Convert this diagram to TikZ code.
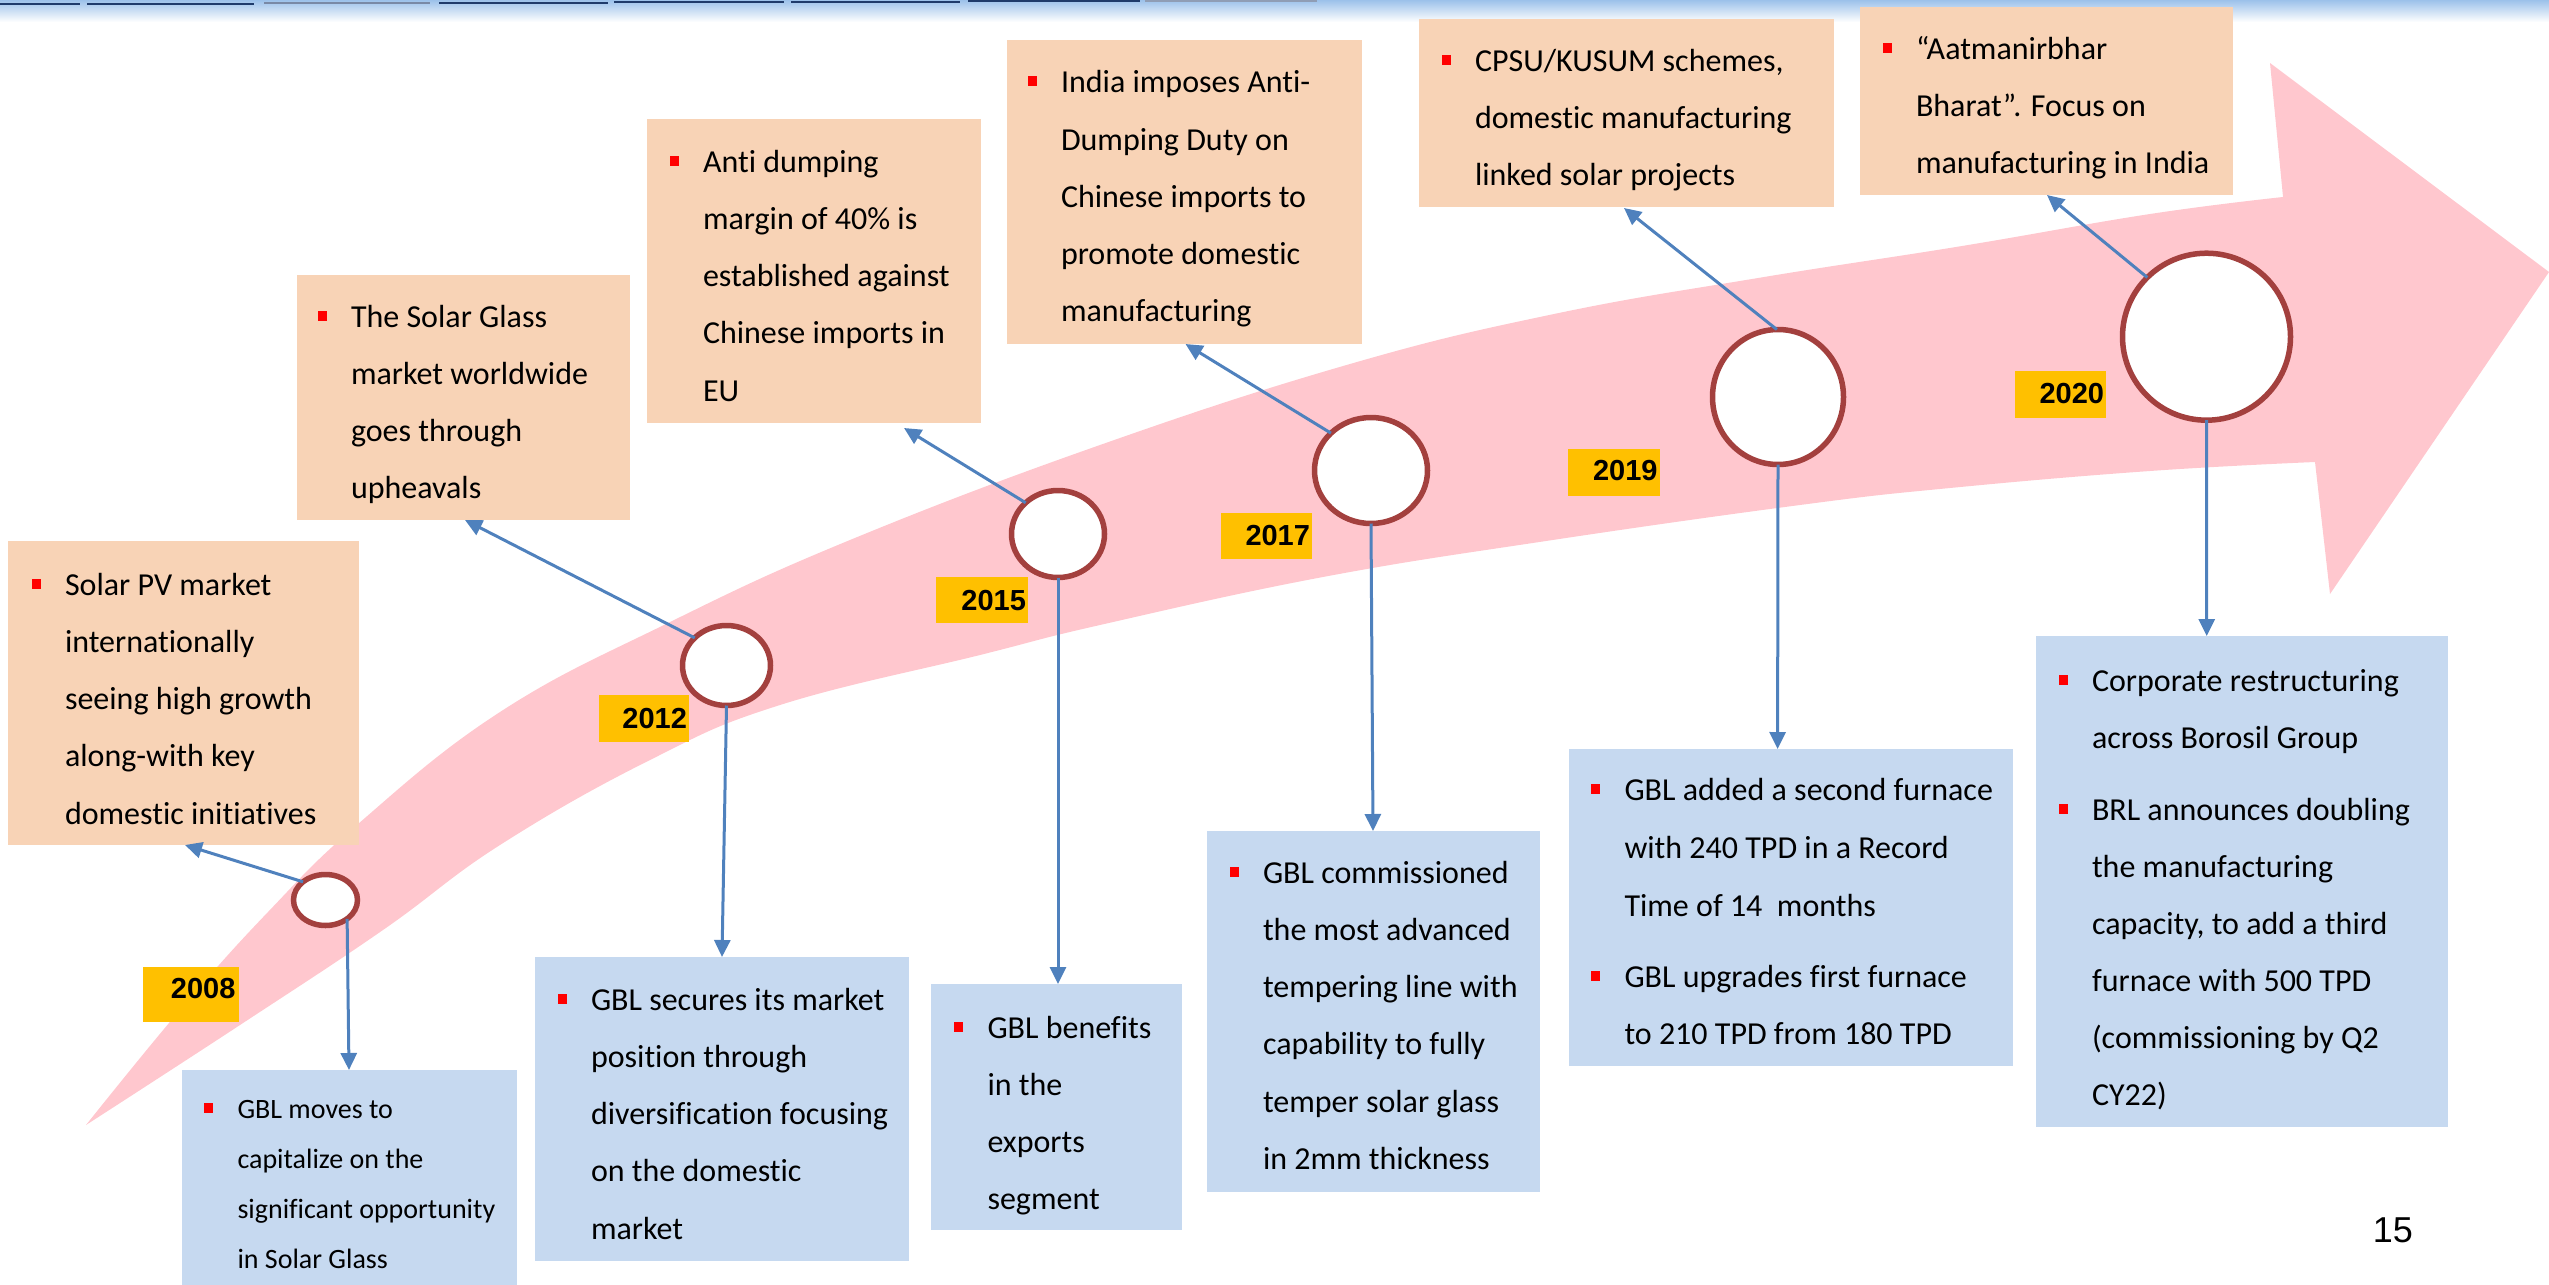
\documentclass[tikz,border=0pt]{standalone}
\usepackage{fontspec}
\setmainfont[Ligatures={NoCommon}]{Carlito}
\newfontfamily\arialf{Liberation Sans}
\usetikzlibrary{arrows.meta,shapes.geometric}
\definecolor{cOr}{HTML}{F8D3B6}
\definecolor{cBx}{HTML}{C6D9F0}
\definecolor{cPink}{HTML}{FFC7CE}
\definecolor{cYr}{HTML}{FFC000}
\definecolor{cRing}{HTML}{A3403E}
\definecolor{cBl}{HTML}{4F81BD}
\definecolor{cNavy}{HTML}{1F3B6B}
\definecolor{cStrip}{HTML}{9CC1EA}
\begin{document}
\begin{tikzpicture}[x=1pt,y=-1pt,
  obx/.style={fill=cOr, anchor=north west, inner sep=0pt, outer sep=0pt},
  bbx/.style={fill=cBx, anchor=north west, inner sep=0pt, outer sep=0pt},
  txt/.style={anchor=north west, inner sep=0pt, outer sep=0pt, align=left, font=\fontsize{32}{57.3}\selectfont},
  bul/.style={fill=red, minimum width=9pt, minimum height=10pt, inner sep=0pt, outer sep=0pt},
  ring/.style={ellipse, draw=cRing, line width=5.5pt, fill=white, inner sep=0pt, outer sep=0pt},
  ybox/.style={fill=cYr, anchor=north west, inner sep=0pt, outer sep=0pt},
  ytxt/.style={anchor=base east, inner sep=0pt, outer sep=0pt, font=\arialf\bfseries\fontsize{29}{30}\selectfont},
  conn/.style={draw=cBl, line width=3pt, -{Triangle[length=17pt,width=16pt]}}
]
\useasboundingbox (0,0) rectangle (2549,1285);
% top strip
\shade[top color=cStrip, bottom color=white] (0,0) rectangle (2549,22);
\fill[cNavy] (0,3) rectangle (80,5);
\fill[cNavy] (87,2.5) rectangle (254,4.5);
\fill[cNavy!60!white] (264,2) rectangle (430,4);
\fill[cNavy] (439,1.5) rectangle (608,3.5);
\fill[cNavy] (614,1) rectangle (784,3);
\fill[cNavy] (791,0.5) rectangle (960,2.5);
\fill[cNavy] (968,0) rectangle (1140,2);
\fill[cNavy!50!white] (1145,0) rectangle (1317,1.5);

% big pink arrow
\fill[cPink] plot[smooth, tension=0.7] coordinates {(86,1125) (180,1010) (268,912) (358,824) (500,712) (668,623) (850,540) (1100,445) (1350,364) (1554,314) (1758,278) (1962,246) (2150,214) (2283,197)}
  -- (2270,63) -- (2549,272) -- (2330,594) -- (2315,462)
  -- plot[smooth, tension=0.7] coordinates {(2315,462) (2150,471) (1950,488) (1800,505) (1546,541) (1323,577) (1100,625) (980,655) (780,705) (650,760) (500,845) (383,930) (240,1025) (86,1125)} -- cycle;

% orange boxes
\node[obx, minimum width=351pt, minimum height=304pt] (o1) at (8,541) {};
\node[obx, minimum width=333pt, minimum height=245pt] (o2) at (297,275) {};
\node[obx, minimum width=334pt, minimum height=304pt] (o3) at (647,119) {};
\node[obx, minimum width=355pt, minimum height=304pt] (o4) at (1007,40) {};
\node[obx, minimum width=415pt, minimum height=188pt] (o5) at (1419,19) {};
\node[obx, minimum width=373pt, minimum height=188pt] (o6) at (1860,7) {};

% blue boxes
\node[bbx, minimum width=335pt, minimum height=230pt] (b1) at (182,1070) {};
\node[bbx, minimum width=374pt, minimum height=304pt] (b2) at (535,957) {};
\node[bbx, minimum width=251pt, minimum height=246pt] (b3) at (931,984) {};
\node[bbx, minimum width=333pt, minimum height=361pt] (b4) at (1207,831) {};
\node[bbx, minimum width=444pt, minimum height=317pt] (b5) at (1569,749) {};
\node[bbx, minimum width=412pt, minimum height=491pt] (b6) at (2036,636) {};

% texts of orange boxes
\node[txt] (o1t) at (65,568) {\rule{0pt}{27pt}Solar PV market\\internationally\\seeing high growth\\along-with key\\domestic initiatives};
\node[txt] (o2t) at (351,300) {\rule{0pt}{27pt}The Solar Glass\\market worldwide\\goes through\\upheavals};
\node[txt] (o3t) at (703,145) {\rule{0pt}{27pt}Anti dumping\\margin of 40\% is\\established against\\Chinese imports in\\EU};
\node[txt] (o4t) at (1061,65.7) {\rule{0pt}{27pt}India imposes Anti-\\Dumping Duty on\\Chinese imports to\\promote domestic\\manufacturing};
\node[txt] (o5t) at (1475,44) {\rule{0pt}{27pt}CPSU/KUSUM schemes,\\domestic manufacturing\\linked solar projects};
\node[txt] (o6t) at (1916,32) {\rule{0pt}{27pt}“Aatmanirbhar\\Bharat”. Focus on\\manufacturing in India};

% texts of blue boxes
\node[txt, font=\fontsize{28}{50}\selectfont] (b1t) at (237.5,1094) {\rule{0pt}{24pt}GBL moves to\\capitalize on the\\significant opportunity\\in Solar Glass};
\node[txt] (b2t) at (591,983) {\rule{0pt}{27pt}GBL secures its market\\position through\\diversification focusing\\on the domestic\\market};
\node[txt] (b3t) at (987.5,1011) {\rule{0pt}{27pt}GBL benefits\\in the\\exports\\segment};
\node[txt] (b4t) at (1263,856) {\rule{0pt}{27pt}GBL commissioned\\the most advanced\\tempering line with\\capability to fully\\temper solar glass\\in 2mm thickness};
\node[txt, font=\fontsize{32}{57.7}\selectfont] (b5t) at (1624.5,773.7) {\rule{0pt}{27pt}GBL added a second furnace\\with 240 TPD in a Record\\Time of 14\ \ months\\[13.3pt]GBL upgrades first furnace\\to 210 TPD from 180 TPD};
\node[txt, font=\fontsize{32}{57}\selectfont] (b6t) at (2092,664.6) {\rule{0pt}{27pt}Corporate restructuring\\across Borosil Group\\[15pt]BRL announces doubling\\the manufacturing\\capacity, to add a third\\furnace with 500 TPD\\(commissioning by Q2\\CY22)};

% bullets
\node[bul] (o1b) at (36,583.5) {};
\node[bul] (o2b) at (322,315.5) {};
\node[bul] (o3b) at (674,160.5) {};
\node[bul] (o4b) at (1032,81.2) {};
\node[bul] (o5b) at (1446,59.5) {};
\node[bul] (o6b) at (1887,47.5) {};
\node[bul] (b1b) at (208.5,1107.5) {};
\node[bul] (b2b) at (562,998.5) {};
\node[bul] (b3b) at (958.5,1026.5) {};
\node[bul] (b4b) at (1234,871.5) {};
\node[bul] (b5b) at (1595,789.2) {};
\node[bul] (b5c) at (1595,975.5) {};
\node[bul] (b6b) at (2063,680.1) {};
\node[bul] (b6c) at (2063,809.1) {};

% connector ends
\coordinate (t1) at (185,845);
\coordinate (t2) at (465,520);
\coordinate (t3) at (904,428);
\coordinate (t4) at (1185.5,344);
\coordinate (t5) at (1624,208);
\coordinate (t6) at (2047,195);
\coordinate (d1) at (349,1070);
\coordinate (d2) at (722,957);
\coordinate (d3) at (1058,984);
\coordinate (d4) at (1373,831);
\coordinate (d5) at (1777.6,749);
\coordinate (d6) at (2206.7,636);

% rings
\path (325.5,900) node[ring, minimum width=64pt, minimum height=51pt] (c1) {};
\path (726.5,665.5) node[ring, minimum width=88pt, minimum height=80pt] (c2) {};
\path (1058,534) node[ring, minimum width=93pt, minimum height=87pt] (c3) {};
\path (1371,470.5) node[ring, minimum width=113pt, minimum height=106pt] (c4) {};
\path (1778,397) node[ring, minimum width=131pt, minimum height=135pt] (c5) {};
\path (2206.5,336.7) node[ring, minimum width=168pt, minimum height=167pt] (c6) {};

% connectors
\draw[conn] (c1.141) -- (t1);
\draw[conn] (c2.139) -- (t2);
\draw[conn] (c3.136) -- (t3);
\draw[conn] (c4.137) -- (t4);
\draw[conn] (c5.91) -- (t5);
\draw[conn] (c6.135) -- (t6);
\draw[conn] (c1.-41) -- (d1);
\draw[conn] (c2.south) -- (d2);
\draw[conn] (c3.south) -- (d3);
\draw[conn] (c4.south) -- (d4);
\draw[conn] (c5.south) -- (d5);
\draw[conn] (c6.south) -- (d6);

% year labels
\node[ybox, minimum width=96pt, minimum height=55pt] (y1b) at (143,967) {};
\node[ybox, minimum width=90pt, minimum height=47pt] (y2b) at (599,695) {};
\node[ybox, minimum width=92pt, minimum height=46pt] (y3b) at (936,577) {};
\node[ybox, minimum width=91pt, minimum height=46pt] (y4b) at (1221,513) {};
\node[ybox, minimum width=92pt, minimum height=47pt] (y5b) at (1568,449) {};
\node[ybox, minimum width=91pt, minimum height=47pt] (y6b) at (2015,371) {};
\node[ytxt] (y1) at (235.5,998) {2008};
\node[ytxt] (y2) at (687,728) {2012};
\node[ytxt] (y3) at (1026,610) {2015};
\node[ytxt] (y4) at (1310,545.6) {2017};
\node[ytxt] (y5) at (1657.5,480) {2019};
\node[ytxt] (y6) at (2104,403) {2020};

% page number
\node[anchor=base east, inner sep=0pt, font=\arialf\fontsize{36}{40}\selectfont] (pg) at (2413,1242.7) {15};
\end{tikzpicture}
\end{document}
